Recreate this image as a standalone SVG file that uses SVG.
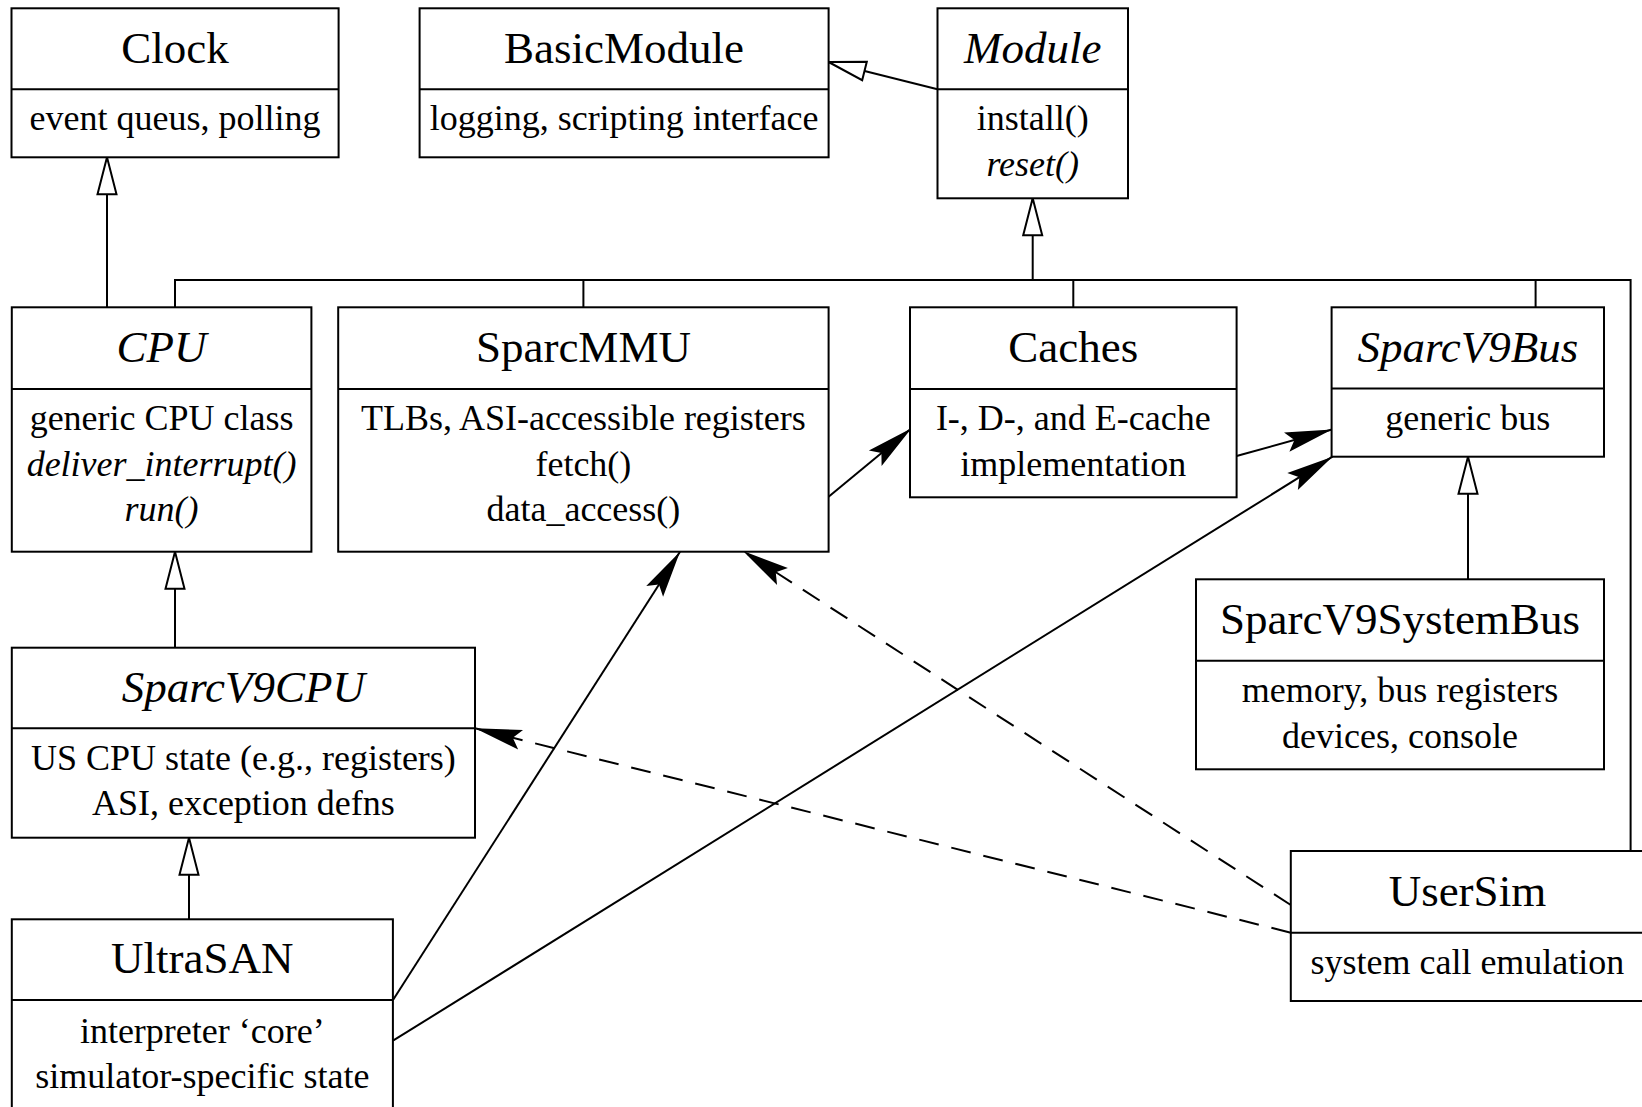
<svg xmlns="http://www.w3.org/2000/svg" width="1642" height="1107" viewBox="0 0 1642 1107">
<style>
  .box { fill: #fff; stroke: #000; stroke-width: 2; }
  .div { stroke: #000; stroke-width: 2; fill: none; }
  .title { font-family: "Liberation Serif", "Times New Roman", serif; font-size: 45px; text-anchor: middle; fill: #000; }
  .body { font-family: "Liberation Serif", "Times New Roman", serif; font-size: 36px; text-anchor: middle; fill: #000; }
  .it { font-style: italic; }
  .ln { stroke: #000; stroke-width: 2; fill: none; }
  .inh { stroke: #000; stroke-width: 2; fill: none; marker-end: url(#tri); }
  .use { stroke: #000; stroke-width: 2; fill: none; marker-end: url(#arr); }
  .dash { stroke: #000; stroke-width: 2; fill: none; stroke-dasharray: 20 13; marker-end: url(#arr); }
</style>
<defs>
  <marker id="tri" markerUnits="userSpaceOnUse" orient="auto" refX="0" refY="0" markerWidth="1" markerHeight="1" overflow="visible">
    <path d="M0,0 L-37,-9.5 L-37,9.5 Z" fill="#fff" stroke="#000" stroke-width="2" stroke-linejoin="miter"/>
  </marker>
  <marker id="arr" markerUnits="userSpaceOnUse" orient="auto" refX="0" refY="0" markerWidth="1" markerHeight="1" overflow="visible">
    <path d="M0,0 L-47,-10 L-39,0 L-47,10 Z" fill="#000" stroke="none"/>
  </marker>
</defs>
<rect x="0" y="0" width="1642" height="1107" fill="#fff"/>

<g id="connectors">
  <polyline class="ln" points="175,307.3 175,280 1630.6,280 1630.6,851"/>
  <line class="ln" x1="583.4" y1="280" x2="583.4" y2="307.3"/>
  <line class="ln" x1="1073.3" y1="280" x2="1073.3" y2="307.3"/>
  <line class="ln" x1="1535.6" y1="280" x2="1535.6" y2="307.3"/>
  <line class="inh" x1="1032.7" y1="280" x2="1032.7" y2="198.3"/>
  <line class="inh" x1="937.5" y1="89.3" x2="828.6" y2="62"/>
  <line class="inh" x1="107" y1="307.3" x2="107" y2="157.3"/>
  <line class="inh" x1="175" y1="647.7" x2="175" y2="551.7"/>
  <line class="inh" x1="189" y1="919.3" x2="189" y2="837.7"/>
  <line class="inh" x1="1468" y1="579.3" x2="1468" y2="456.7"/>
  <line class="use" x1="828.6" y1="496.7" x2="911.5" y2="428.3"/>
  <line class="use" x1="1236.6" y1="456" x2="1332" y2="429.5"/>
  <line class="use" x1="393" y1="1000" x2="680" y2="551.7"/>
  <line class="use" x1="393" y1="1040.7" x2="1332.5" y2="456.7"/>
  <line class="dash" x1="1290.8" y1="905" x2="743" y2="551"/>
  <line class="dash" x1="1290.8" y1="932.7" x2="475" y2="728.3"/>
</g>

<g id="Clock">
  <rect class="box" x="11.5" y="8.3" width="327.1" height="149"/>
  <line class="div" x1="11.5" y1="89.3" x2="338.6" y2="89.3"/>
  <text class="title" x="175" y="62.7">Clock</text>
  <text class="body" x="175" y="130.3">event queus, polling</text>
</g>

<g id="BasicModule">
  <rect class="box" x="419.6" y="8.3" width="409" height="149"/>
  <line class="div" x1="419.6" y1="89.3" x2="828.6" y2="89.3"/>
  <text class="title" x="624.1" y="62.7">BasicModule</text>
  <text class="body" x="624.1" y="130.3">logging, scripting interface</text>
</g>

<g id="Module">
  <rect class="box" x="937.5" y="8.3" width="190.5" height="190"/>
  <line class="div" x1="937.5" y1="89.3" x2="1128" y2="89.3"/>
  <text class="title it" x="1032.7" y="62.7">Module</text>
  <text class="body" x="1032.7" y="130.3">install()</text>
  <text class="body it" x="1032.7" y="175.5">reset()</text>
</g>

<g id="CPU">
  <rect class="box" x="11.8" y="307.3" width="299.6" height="244.4"/>
  <line class="div" x1="11.8" y1="389" x2="311.4" y2="389"/>
  <text class="title it" x="161.6" y="361.7">CPU</text>
  <text class="body" x="161.6" y="430">generic CPU class</text>
  <text class="body it" x="161.6" y="475.5">deliver_interrupt()</text>
  <text class="body it" x="161.6" y="521">run()</text>
</g>

<g id="SparcMMU">
  <rect class="box" x="338.2" y="307.3" width="490.4" height="244.4"/>
  <line class="div" x1="338.2" y1="389" x2="828.6" y2="389"/>
  <text class="title" x="583.4" y="361.7">SparcMMU</text>
  <text class="body" x="583.4" y="430">TLBs, ASI-accessible registers</text>
  <text class="body" x="583.4" y="475.5">fetch()</text>
  <text class="body" x="583.4" y="521">data_access()</text>
</g>

<g id="Caches">
  <rect class="box" x="910" y="307.3" width="326.6" height="190"/>
  <line class="div" x1="910" y1="389" x2="1236.6" y2="389"/>
  <text class="title" x="1073.3" y="361.7">Caches</text>
  <text class="body" x="1073.3" y="430">I-, D-, and E-cache</text>
  <text class="body" x="1073.3" y="475.5">implementation</text>
</g>

<g id="SparcV9Bus">
  <rect class="box" x="1331.6" y="307.3" width="272.4" height="149.4"/>
  <line class="div" x1="1331.6" y1="388.5" x2="1604" y2="388.5"/>
  <text class="title it" x="1467.8" y="361.7">SparcV9Bus</text>
  <text class="body" x="1467.8" y="430">generic bus</text>
</g>

<g id="SparcV9SystemBus">
  <rect class="box" x="1196" y="579.3" width="408" height="190"/>
  <line class="div" x1="1196" y1="660.7" x2="1604" y2="660.7"/>
  <text class="title" x="1400" y="634">SparcV9SystemBus</text>
  <text class="body" x="1400" y="702">memory, bus registers</text>
  <text class="body" x="1400" y="747.5">devices, console</text>
</g>

<g id="SparcV9CPU">
  <rect class="box" x="11.8" y="647.7" width="463.2" height="190"/>
  <line class="div" x1="11.8" y1="728.3" x2="475" y2="728.3"/>
  <text class="title it" x="243.4" y="701.7">SparcV9CPU</text>
  <text class="body" x="243.4" y="769.5">US CPU state (e.g., registers)</text>
  <text class="body" x="243.4" y="815">ASI, exception defns</text>
</g>

<g id="UltraSAN">
  <rect class="box" x="11.8" y="919.3" width="381.1" height="200"/>
  <line class="div" x1="11.8" y1="1000" x2="392.9" y2="1000"/>
  <text class="title" x="202.3" y="973.3">UltraSAN</text>
  <text class="body" x="202.3" y="1042.5">interpreter ‘core’</text>
  <text class="body" x="202.3" y="1088">simulator-specific state</text>
</g>

<g id="UserSim">
  <rect class="box" x="1290.8" y="851" width="353.5" height="150"/>
  <line class="div" x1="1290.8" y1="932.7" x2="1644" y2="932.7"/>
  <text class="title" x="1467.4" y="905.5">UserSim</text>
  <text class="body" x="1467.4" y="973.7">system call emulation</text>
</g>
</svg>
